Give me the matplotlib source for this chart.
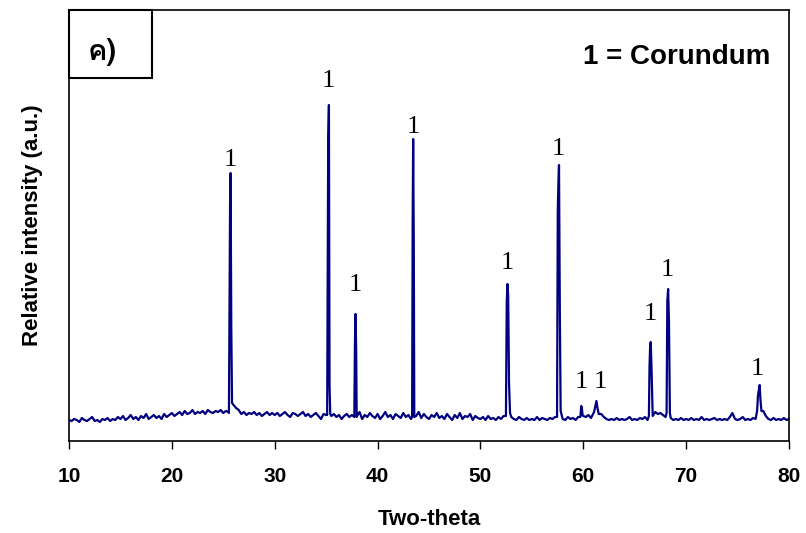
import numpy as np
import matplotlib
matplotlib.use("Agg")
import matplotlib.pyplot as plt
from matplotlib import font_manager, ft2font
from matplotlib.patches import Rectangle

# background, 0.25 deg step from 10 to 80
bg_theta = np.linspace(10, 80, 281)
bg_int = [
    21, 20, 22, 21, 19, 23, 21, 20, 22, 24, 20, 21, 19, 22, 21, 23, 20, 22, 21, 24,
    22, 25, 21, 23, 26, 22, 24, 21, 25, 23, 27, 22, 24, 26, 23, 25, 22, 27, 24, 26,
    28, 25, 27, 29, 26, 30, 27, 28, 31, 27, 29, 28, 30, 27, 31, 29, 28, 30, 29, 31,
    28, 30, 29, 30, 36, 33, 31, 27, 29, 26, 28, 27, 29, 26, 28, 25, 27, 29, 26, 28,
    26, 28, 25, 27, 29, 26, 24, 28, 27, 25, 27, 29, 25, 27, 24, 26, 28, 25, 22, 27,
    26, 28, 25, 27, 24, 26, 22, 25, 27, 24, 26, 23, 25, 29, 22, 26, 24, 28, 25, 23,
    27, 22, 25, 29, 24, 26, 22, 27, 25, 23, 28, 24, 26, 22, 25, 25, 29, 23, 27, 24,
    22, 26, 24, 28, 23, 25, 22, 27, 24, 21, 26, 23, 28, 22, 25, 24, 27, 21, 25, 23,
    22, 24, 21, 25, 22, 23, 21, 24, 22, 25, 26, 28, 24, 22, 21, 24, 22, 21, 23, 21,
    22, 21, 24, 21, 23, 22, 21, 23, 22, 24, 22, 26, 22, 21, 24, 22, 23, 21, 24, 22,
    25, 24, 26, 23, 28, 34, 30, 27, 24, 22, 21, 22, 21, 23, 21, 22, 21, 22, 24, 21,
    22, 21, 23, 22, 24, 21, 23, 25, 29, 27, 28, 26, 24, 25, 23, 21, 22, 21, 23, 21,
    22, 21, 23, 21, 22, 21, 24, 21, 22, 21, 22, 23, 21, 22, 21, 22, 21, 24, 28, 22,
    21, 22, 24, 21, 22, 21, 23, 22, 24, 26, 30, 25, 22, 21, 23, 21, 22, 21, 23, 21,
    22,
]

# corundum reflections
peak_theta = [
    [25.55, 25.62, 25.66, 25.71, 25.78, 25.85],
    [35.10, 35.20, 35.27, 35.33, 35.40],
    [37.74, 37.80, 37.86, 37.92, 37.97],
    [43.36, 43.41, 43.46, 43.52, 43.57],
    [52.48, 52.56, 52.63, 52.70, 52.78, 52.88],
    [57.45, 57.52, 57.58, 57.64, 57.72, 57.80],
    [59.72, 59.80, 59.86, 59.93],
    [61.05, 61.15, 61.28, 61.38, 61.50],
    [66.38, 66.44, 66.50, 66.56, 66.64, 66.74],
    [68.10, 68.17, 68.25, 68.33, 68.42],
    [76.90, 76.98, 77.05, 77.15, 77.22, 77.32],
]
peak_int = [
    [28, 150, 238, 268, 111, 38],
    [26, 300, 336, 55, 27],
    [24, 98, 127, 91, 24],
    [24, 211, 302, 200, 24],
    [25, 140, 157, 145, 58, 28],
    [24, 230, 258, 276, 130, 30],
    [24, 35, 33, 26],
    [29, 34, 40, 33, 27],
    [25, 75, 95, 99, 70, 28],
    [28, 140, 152, 120, 28],
    [30, 45, 50, 56, 42, 30],
]

# "1" labels over the peaks
label_theta = [25.7, 35.2, 37.85, 43.45, 52.65, 57.6, 59.85, 61.7, 66.5, 68.2, 76.95]
label_int = [281, 360, 156, 314, 178, 292, 59, 59, 127, 171, 72]

keep = np.ones(len(bg_theta), dtype=bool)
for px in peak_theta:
    keep &= ~((bg_theta >= px[0]) & (bg_theta <= px[-1]))
x = np.concatenate([bg_theta[keep]] + [np.array(p) for p in peak_theta])
y = np.concatenate([np.array(bg_int)[keep]] + [np.array(p) for p in peak_int])
order = np.argsort(x)
x, y = x[order], y[order]

# find something that can draw Thai
thai = None
for f in font_manager.fontManager.ttflist:
    try:
        if 0x0E04 in ft2font.FT2Font(f.fname).get_charmap():
            thai = f.name
            break
    except Exception:
        pass
box_family = [thai, "Liberation Sans"] if thai else ["Liberation Sans", "DejaVu Sans"]

plt.rcParams["font.family"] = ["Liberation Sans", "DejaVu Sans"]

fig = plt.figure(figsize=(8.06, 5.33), dpi=100)
ax = fig.add_axes([0.0856, 0.1726, 0.8933, 0.8086])

ax.plot(x, y, color="#000080", lw=1.6)

for lx, ly in zip(label_theta, label_int):
    ax.text(lx, ly, "1", ha="center", va="center", fontsize=19,
            family=["Liberation Serif", "DejaVu Serif"])

ax.set_xlim(10, 80)
ax.set_ylim(0, 431)
ax.set_xticks(range(10, 81, 10))
ax.set_yticks([])
ax.tick_params(axis="x", direction="out", length=6, width=1, pad=13, labelsize=15)
for lab in ax.get_xticklabels():
    lab.set_fontweight("bold")
for s in ax.spines.values():
    s.set_linewidth(1.2)

ax.set_xlabel("Two-theta", fontsize=16, fontweight="bold", labelpad=16)
ax.set_ylabel("Relative intensity (a.u.)", fontsize=16, fontweight="bold", labelpad=19)

ax.add_patch(Rectangle((0, 0.842), 0.115, 0.158, transform=ax.transAxes,
                       fill=False, lw=1.5, ec="black", clip_on=False))
ax.text(0.046, 0.903, "ค)", transform=ax.transAxes, ha="center", va="center",
        fontsize=21, fontweight="bold", family=box_family)
ax.text(0.974, 0.891, "1 = Corundum", transform=ax.transAxes, ha="right",
        va="center", fontsize=20, fontweight="bold")

fig.savefig("out.png", dpi=100)
